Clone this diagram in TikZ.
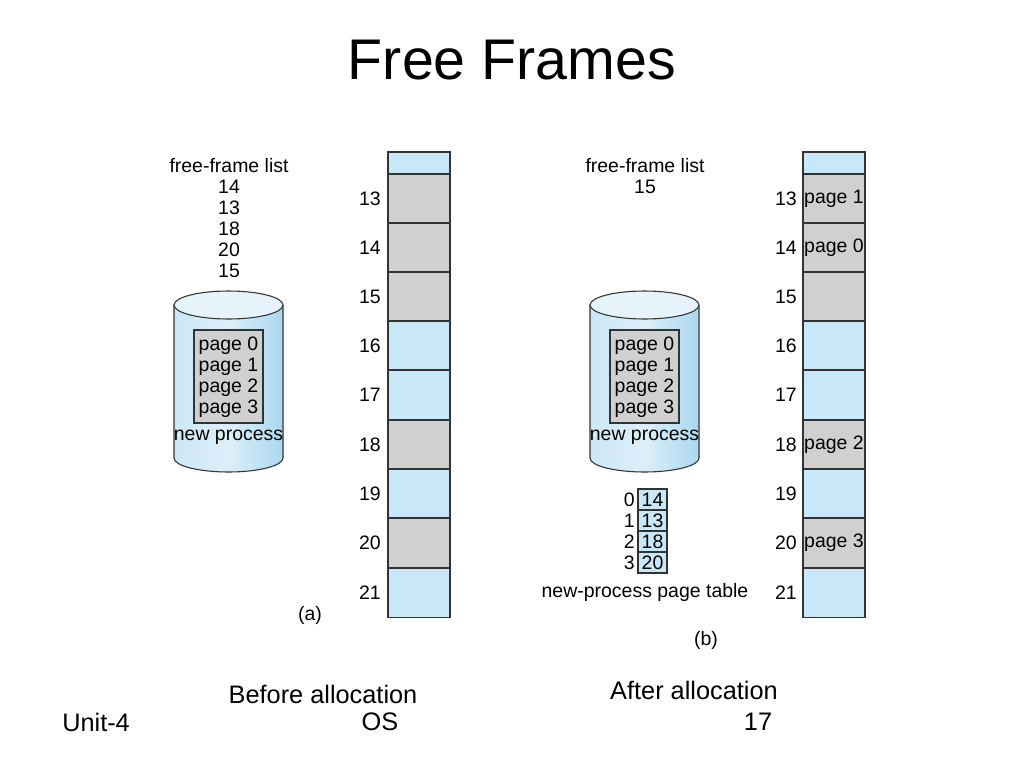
\documentclass[tikz,border=0pt]{standalone}
\usepackage{fontspec}
\setmainfont{Liberation Sans}
\begin{document}
\begin{tikzpicture}[x=0.75pt,y=-0.75pt]
\definecolor{lb}{RGB}{200,232,250}
\definecolor{gr}{RGB}{208,208,208}
\definecolor{cyl}{RGB}{170,215,240}
\tikzset{lbl/.style={font=\fontsize{14.6}{15}\selectfont,inner sep=0pt},
 frm/.style={draw=black!80,line width=0.8pt},
 big/.style={font=\fontsize{19}{20}\selectfont,inner sep=0pt}}
\useasboundingbox (0,0) rectangle (1024,768);
\node[font=\fontsize{43}{46}\selectfont] (title) at (512,60) {Free Frames};
% memory columns
\foreach \cx/\side in {388/a,803/b}{
  \fill[lb] (\cx,152) rectangle +(62,22);
  \draw[frm] (\cx,152) rectangle (\cx+62,617);
}
\def\rows{13/174/gr/gr/{}/{page 1},14/223/gr/gr/{}/{page 0},15/272/gr/gr/{}/{},16/321/lb/lb/{}/{},17/370/lb/lb/{}/{},18/420/gr/gr/{}/{page 2},19/469/lb/lb/{}/{},20/518/gr/gr/{}/{page 3},21/568/lb/lb/{}/{}}
\foreach \n/\y/\ca/\cb/\ta/\tb in \rows{
  \draw[frm,fill=\ca] (388,\y) rectangle (450,\y+49.2);
  \draw[frm,fill=\cb] (803,\y) rectangle (865,\y+49.2);
  \node[lbl,anchor=east] (na\n) at (381,\y+25) {\n};
  \node[lbl,anchor=east] (nb\n) at (797,\y+25) {\n};
  \node[lbl] (tb\n) at (834,\y+25) {\tb};
}
% free frame lists
\node[lbl] (ffa) at (229,166) {free-frame list};
\foreach \v [count=\i] in {14,13,18,20,15}
  \node[lbl] (ffa\i) at (229,166+21*\i) {\v};
\node[lbl] (ffb) at (645,166) {free-frame list};
\node[lbl] (ffb1) at (645,187) {15};
% cylinders
\foreach \cx/\s in {228.5/a,644.5/b}{
  \shade[left color=cyl!60,right color=cyl,middle color=white!60!cyl,shading angle=90]
    (\cx-54.5,305) -- (\cx-54.5,458) arc[start angle=180,end angle=0,x radius=54.5,y radius=14] -- (\cx+54.5,305) -- cycle;
  \draw[black!80,line width=0.8pt] (\cx-54.5,305) -- (\cx-54.5,458) arc[start angle=180,end angle=0,x radius=54.5,y radius=14] -- (\cx+54.5,305);
  \draw[black!80,line width=0.8pt,fill=white!70!cyl] (\cx,305) ellipse[x radius=54.5,y radius=14];
  \draw[frm,fill=gr] (\cx-34.5,330) rectangle (\cx+34.5,423);
  \foreach \p in {0,1,2,3}
    \node[lbl] (pg\s\p) at (\cx,346+21*\p) {page \p};
  \node[lbl] (np\s) at (\cx,437) {new process};
}
% page table
\foreach \i/\v in {0/14,1/13,2/18,3/20}{
  \draw[frm,fill=lb] (638,489+21*\i) rectangle (667,510+21*\i);
  \node[lbl] (pt\i) at (652.5,500+21*\i) {\v};
  \node[lbl,anchor=east] (pi\i) at (635,500+21*\i) {\i};
}
\node[lbl] (ptl) at (645,592) {new-process page table};
\node[lbl] (capa) at (310,615) {(a)};
\node[lbl] (capb) at (706,640) {(b)};
\node[big] (ba) at (323,694) {Before allocation};
\node[big] (aa) at (694,690) {After allocation};
\node[big,anchor=west] (unit) at (62,722) {Unit-4};
\node[big] (os) at (380,722) {OS};
\node[big] (pn) at (758,722) {17};
\end{tikzpicture}
\end{document}
